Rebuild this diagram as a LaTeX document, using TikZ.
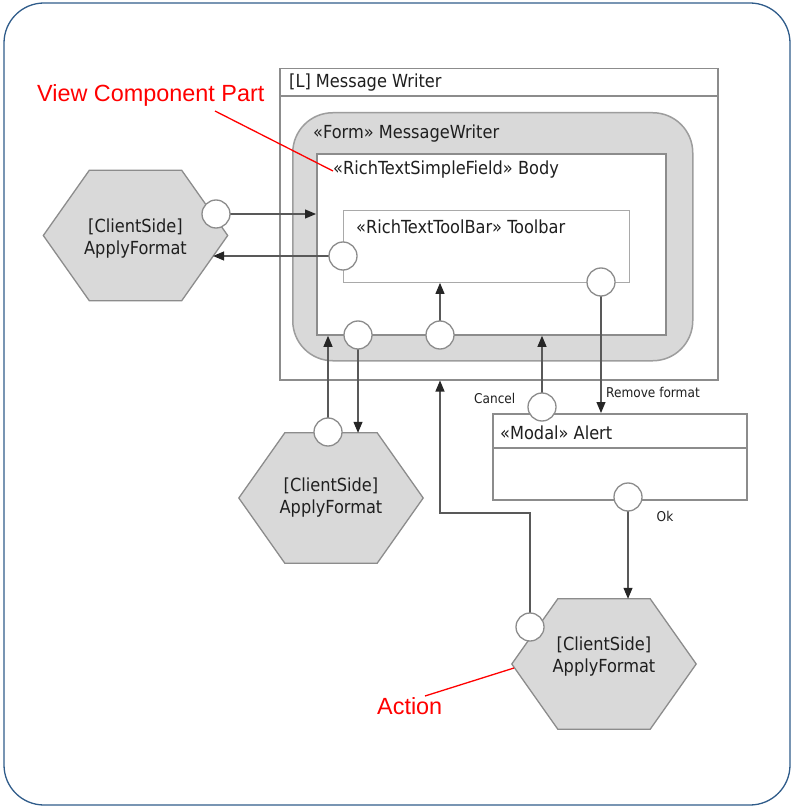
\documentclass[tikz,border=0pt]{standalone}
\usepackage{fontspec}
\setmainfont{DejaVu Sans Condensed}
\newfontfamily\annfont{Liberation Sans}
\usetikzlibrary{arrows.meta,calc}
\definecolor{frameblue}{HTML}{2F5C8A}
\definecolor{boxgray}{HTML}{8C8C8C}
\definecolor{fillgray}{HTML}{D9D9D9}
\definecolor{linegray}{HTML}{595959}
\definecolor{textdark}{HTML}{1F1F1F}
\tikzset{
  box/.style={draw=boxgray, line width=1.5pt, fill=white, anchor=north west, inner sep=0pt},
  port/.style={circle, draw=boxgray, line width=1.3pt, fill=white, minimum size=28pt, inner sep=0pt},
  hexarea/.style={minimum width=184pt, minimum height=130pt, inner sep=0pt},
  hexbody/.style={draw=boxgray, line width=1.3pt, fill=fillgray, line join=miter},
  conn/.style={draw=linegray, line width=1.1pt, -{Triangle[length=11pt,width=9pt,color=black!85]}},
  lbl/.style={text=textdark, inner sep=0pt, font=\fontsize{18}{22}\selectfont},
  small/.style={text=textdark, inner sep=0pt, font=\fontsize{13.5}{16}\selectfont},
  ann/.style={text=red, inner sep=0pt, font=\annfont\fontsize{23.4}{28}\selectfont},
  annline/.style={draw=red, line width=1.3pt},
}
% flat-topped hexagon spanning the bounding node #1
\newcommand\hexshape[1]{%
  \path[hexbody] (#1.west) -- ([xshift=46pt]#1.north west) -- ([xshift=-46pt]#1.north east)
    -- (#1.east) -- ([xshift=-46pt]#1.south east) -- ([xshift=46pt]#1.south west) -- cycle;}
\begin{document}
\begin{tikzpicture}[x=1pt,y=-1pt]
\useasboundingbox (0,0) rectangle (811,810);
% outer frame
\draw[frameblue, line width=1.3pt, rounded corners=40pt] (4,3) rectangle (790,805);

% layout container
\node[box, minimum width=438pt, minimum height=311pt] (mw) at (279,68) {};
\draw[draw=boxgray, line width=1.5pt] ([yshift=-28pt]mw.north west) -- ([yshift=-28pt]mw.north east);
\node[lbl, anchor=west] (mwt) at (289,83) {[L] Message Writer};

% form
\node[draw=boxgray!85, line width=1.5pt, fill=fillgray, rounded corners=40pt, anchor=north west,
      inner sep=0pt, minimum width=400pt, minimum height=248pt] (form) at (292,112) {};
\node[lbl, anchor=west] (formt) at (313,134) {«Form» MessageWriter};

% body field
\node[box, line width=1.8pt, minimum width=349pt, minimum height=181pt] (body) at (316,153) {};
\node[lbl, anchor=west] (bodyt) at (333,170) {«RichTextSimpleField» Body};

% toolbar
\node[box, draw=boxgray!75, line width=0.9pt, minimum width=286pt, minimum height=72pt] (tbar) at (343,210) {};
\node[lbl, anchor=west] (tbart) at (356,227) {«RichTextToolBar» Toolbar};

% modal alert
\node[box, minimum width=254pt, minimum height=86pt] (alert) at (492,413) {};
\draw[draw=boxgray, line width=1.5pt] ([yshift=-35pt]alert.north west) -- ([yshift=-35pt]alert.north east);
\node[lbl, anchor=west] (alertt) at (500,433) {«Modal» Alert};

% actions
\node[hexarea] (h1) at (135.5,235.5) {};
\node[hexarea] (h2) at (331,498) {};
\node[hexarea] (h3) at (604,664) {};
\hexshape{h1}
\hexshape{h2}
\hexshape{h3}
\node[lbl, align=center] (h1t) at ([yshift=-3.5pt]h1.center) {[ClientSide]\\ApplyFormat};
\node[lbl, align=center] (h2t) at (h2.center) {[ClientSide]\\ApplyFormat};
\node[lbl, align=center] (h3t) at ([yshift=7pt]h3.center) {[ClientSide]\\ApplyFormat};

% port positions
\coordinate (ph1) at (216,214);
\coordinate (ptl) at (343,256);
\coordinate (ptr) at (601,282);
\coordinate (pb1) at (358,335);
\coordinate (pb2) at (440,335);
\coordinate (ph2) at (328,432);
\coordinate (pcan) at (542,407);
\coordinate (pok) at (628,497);
\coordinate (ph3) at (530,627);
\coordinate (h1in) at ($(h1.east)!0.318!([xshift=-46pt]h1.south east)$);
\coordinate (bend) at (440,513);

% connectors
\draw[conn] (ph1) -- (ph1 -| body.west);
\draw[conn] (ptl) -- (ptl -| h1in);
\draw[conn] (pb2) -- (pb2 |- tbar.south);
\draw[conn] (ph3) |- (bend) -- (bend |- mw.south);
\draw[conn] (ph2) -- (ph2 |- body.south);
\draw[conn] (pb1) -- (pb1 |- h2.north);
\draw[conn] (pcan) -- (pcan |- body.south);
\draw[conn] (ptr) -- (ptr |- alert.north);
\draw[conn] (pok) -- (pok |- h3.north);

% ports
\foreach \p in {ph1,ptl,ptr,pb1,pb2,ph2,pcan,pok,ph3}
  \node[port] (\p c) at (\p) {};

% flow labels
\node[small, anchor=west] (rmf) at (606,392) {Remove format};
\node[small] (okl) at (665,516) {Ok};
\node[small, anchor=west] (canl) at (474,398) {Cancel};

% annotations
\node[ann, anchor=west] (vcp) at (37,95) {View Component Part};
\coordinate (vcpfoot) at (215,111);
\coordinate (vcptip) at (333,171);
\draw[annline] (vcpfoot) -- (vcptip);
\node[ann, anchor=west] (act) at (377,706) {Action};
\coordinate (actfoot) at (425,696);
\coordinate (acttip) at (514,668);
\draw[annline] (actfoot) -- (acttip);
\end{tikzpicture}
\end{document}
